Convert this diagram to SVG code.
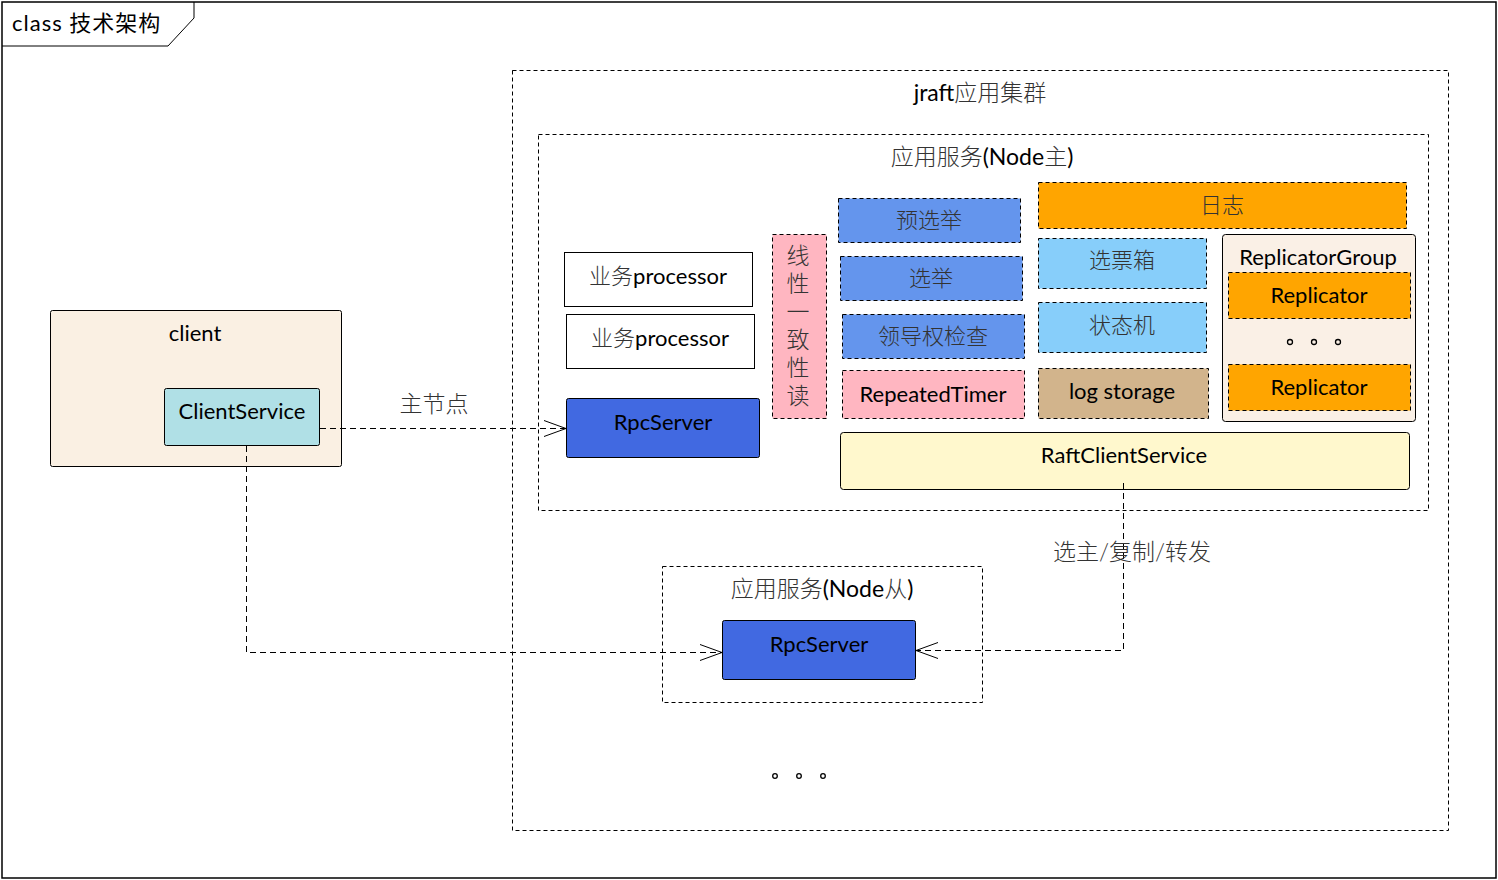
<svg xmlns="http://www.w3.org/2000/svg" width="1498" height="880" viewBox="0 0 1498 880">
<style>
text{font-family:"Lato","Noto Sans CJK SC",sans-serif;font-size:22px;fill:#000;}
.c{text-anchor:middle;}
.cjk{fill:#333;font-weight:300;}
.big{font-size:23px;}
.dash{fill:none;stroke:#000;stroke-width:1;stroke-dasharray:4,3;}
.dbox{stroke:#000;stroke-width:1;stroke-dasharray:4,3;}
.sbox{stroke:#000;stroke-width:1;}
.conn{fill:none;stroke:#000;stroke-width:1;stroke-dasharray:6,4;}
.dot{fill:none;stroke:#000;stroke-width:1.3;}
</style>
<defs>
<marker id="open" markerWidth="24" markerHeight="18" refX="22" refY="9" orient="auto" markerUnits="userSpaceOnUse">
<path d="M0,1 L22,9 L0,17" fill="none" stroke="#000" stroke-width="1"/>
</marker>
</defs>
<rect width="1498" height="880" fill="#fff"/>
<g id="frame">
<rect x="2" y="2" width="1494" height="876" fill="none" stroke="#000" stroke-width="1.5"/>
<path d="M2,46 L168,46 L194,18 L194,2" fill="none" stroke="#000" stroke-width="1"/>
<text x="12" y="31" style="font-size:22px" letter-spacing="1">class 技术架构</text>
</g>
<g id="cluster">
<rect class="dash" x="512.5" y="70.5" width="936" height="760"/>
<text class="c big" x="980" y="101">jraft<tspan class="cjk">应用集群</tspan></text>
</g>
<g id="nodeMaster">
<rect class="dash" x="538.5" y="134.5" width="890" height="376"/>
<text class="c big" x="982" y="165"><tspan class="cjk">应用服务</tspan>(Node<tspan class="cjk">主</tspan>)</text>
</g>
<g id="processor1">
<rect class="sbox" x="564.5" y="252.5" width="188" height="54" fill="#fff"/>
<text class="c" x="658" y="284"><tspan class="cjk">业务</tspan>processor</text>
</g>
<g id="processor2">
<rect class="sbox" x="566.5" y="314.5" width="188" height="54" fill="#fff"/>
<text class="c" x="660" y="346"><tspan class="cjk">业务</tspan>processor</text>
</g>
<g id="rpcServerMaster">
<rect class="sbox" x="566.5" y="398.5" width="193" height="59" rx="2" fill="#4169E1"/>
<text class="c" x="663" y="430">RpcServer</text>
</g>
<g id="linearRead">
<rect class="dbox" x="772.5" y="234.5" width="54" height="184" fill="#FFB6C1"/>
<text class="c cjk big" x="798" y="264">线</text>
<text class="c cjk big" x="798" y="292">性</text>
<text class="c cjk big" x="798" y="320">一</text>
<text class="c cjk big" x="798" y="348">致</text>
<text class="c cjk big" x="798" y="376">性</text>
<text class="c cjk big" x="798" y="404">读</text>
</g>
<g id="preVote">
<rect class="dbox" x="838.5" y="198.5" width="182" height="44" fill="#6495ED"/>
<text class="c cjk" x="929" y="228">预选举</text>
</g>
<g id="vote">
<rect class="dbox" x="840.5" y="256.5" width="182" height="44" fill="#6495ED"/>
<text class="c cjk" x="931" y="286">选举</text>
</g>
<g id="leaderCheck">
<rect class="dbox" x="842.5" y="314.5" width="182" height="44" fill="#6495ED"/>
<text class="c cjk" x="933" y="344">领导权检查</text>
</g>
<g id="repeatedTimer">
<rect class="dbox" x="842.5" y="370.5" width="182" height="48" fill="#FFB6C1"/>
<text class="c" x="933" y="402">RepeatedTimer</text>
</g>
<g id="log">
<rect class="dbox" x="1038.5" y="182.5" width="368" height="46" fill="#FFA500"/>
<text class="c cjk" x="1222" y="213">日志</text>
</g>
<g id="ballotBox">
<rect class="dbox" x="1038.5" y="238.5" width="168" height="50" fill="#87CEFA"/>
<text class="c cjk" x="1122" y="268">选票箱</text>
</g>
<g id="stateMachine">
<rect class="dbox" x="1038.5" y="302.5" width="168" height="50" fill="#87CEFA"/>
<text class="c cjk" x="1122" y="333">状态机</text>
</g>
<g id="logStorage">
<rect class="dbox" x="1038.5" y="368.5" width="170" height="50" fill="#D2B48C"/>
<text class="c" x="1122" y="399">log storage</text>
</g>
<g id="replicatorGroup">
<rect class="sbox" x="1222.5" y="234.5" width="193" height="187" rx="3" fill="#FAF0E6"/>
<text class="c" x="1318" y="265">ReplicatorGroup</text>
<rect class="dbox" x="1228.5" y="272.5" width="182" height="46" fill="#FFA500"/>
<text class="c" x="1319" y="303">Replicator</text>
<circle class="dot" cx="1290" cy="342" r="2.5"/>
<circle class="dot" cx="1314" cy="342" r="2.5"/>
<circle class="dot" cx="1338" cy="342" r="2.5"/>
<rect class="dbox" x="1228.5" y="364.5" width="182" height="46" fill="#FFA500"/>
<text class="c" x="1319" y="395">Replicator</text>
</g>
<g id="raftClientService">
<rect class="sbox" x="840.5" y="432.5" width="569" height="57" rx="3" fill="#FFF8CD"/>
<text class="c" x="1124" y="463">RaftClientService</text>
</g>
<g id="client">
<rect class="sbox" x="50.5" y="310.5" width="291" height="156" rx="2" fill="#FAF0E3"/>
<text class="c" x="195" y="341">client</text>
</g>
<g id="clientService">
<rect class="sbox" x="164.5" y="388.5" width="155" height="57" rx="2" fill="#B0E0E6"/>
<text class="c" x="242" y="419">ClientService</text>
</g>
<g id="nodeSlave">
<rect class="dash" x="662.5" y="566.5" width="320" height="136"/>
<text class="c big" x="822" y="597"><tspan class="cjk">应用服务</tspan>(Node<tspan class="cjk">从</tspan>)</text>
</g>
<g id="rpcServerSlave">
<rect class="sbox" x="722.5" y="620.5" width="193" height="59" rx="2" fill="#4169E1"/>
<text class="c" x="819" y="652">RpcServer</text>
</g>
<g id="moreNodes">
<circle class="dot" cx="775" cy="776" r="2.3"/>
<circle class="dot" cx="799" cy="776" r="2.3"/>
<circle class="dot" cx="823" cy="776" r="2.3"/>
</g>
<g id="connectors">
<path class="conn" d="M320,428.5 L566,428.5" marker-end="url(#open)"/>
<text class="c cjk big" x="434" y="412">主节点</text>
<path class="conn" d="M246.5,446 L246.5,652.5 L722,652.5" marker-end="url(#open)"/>
<path class="conn" d="M1123.5,483 L1123.5,650.5 L916,650.5" marker-end="url(#open)"/>
<text class="c cjk big" x="1132" y="560">选主/复制/转发</text>
</g>
</svg>
